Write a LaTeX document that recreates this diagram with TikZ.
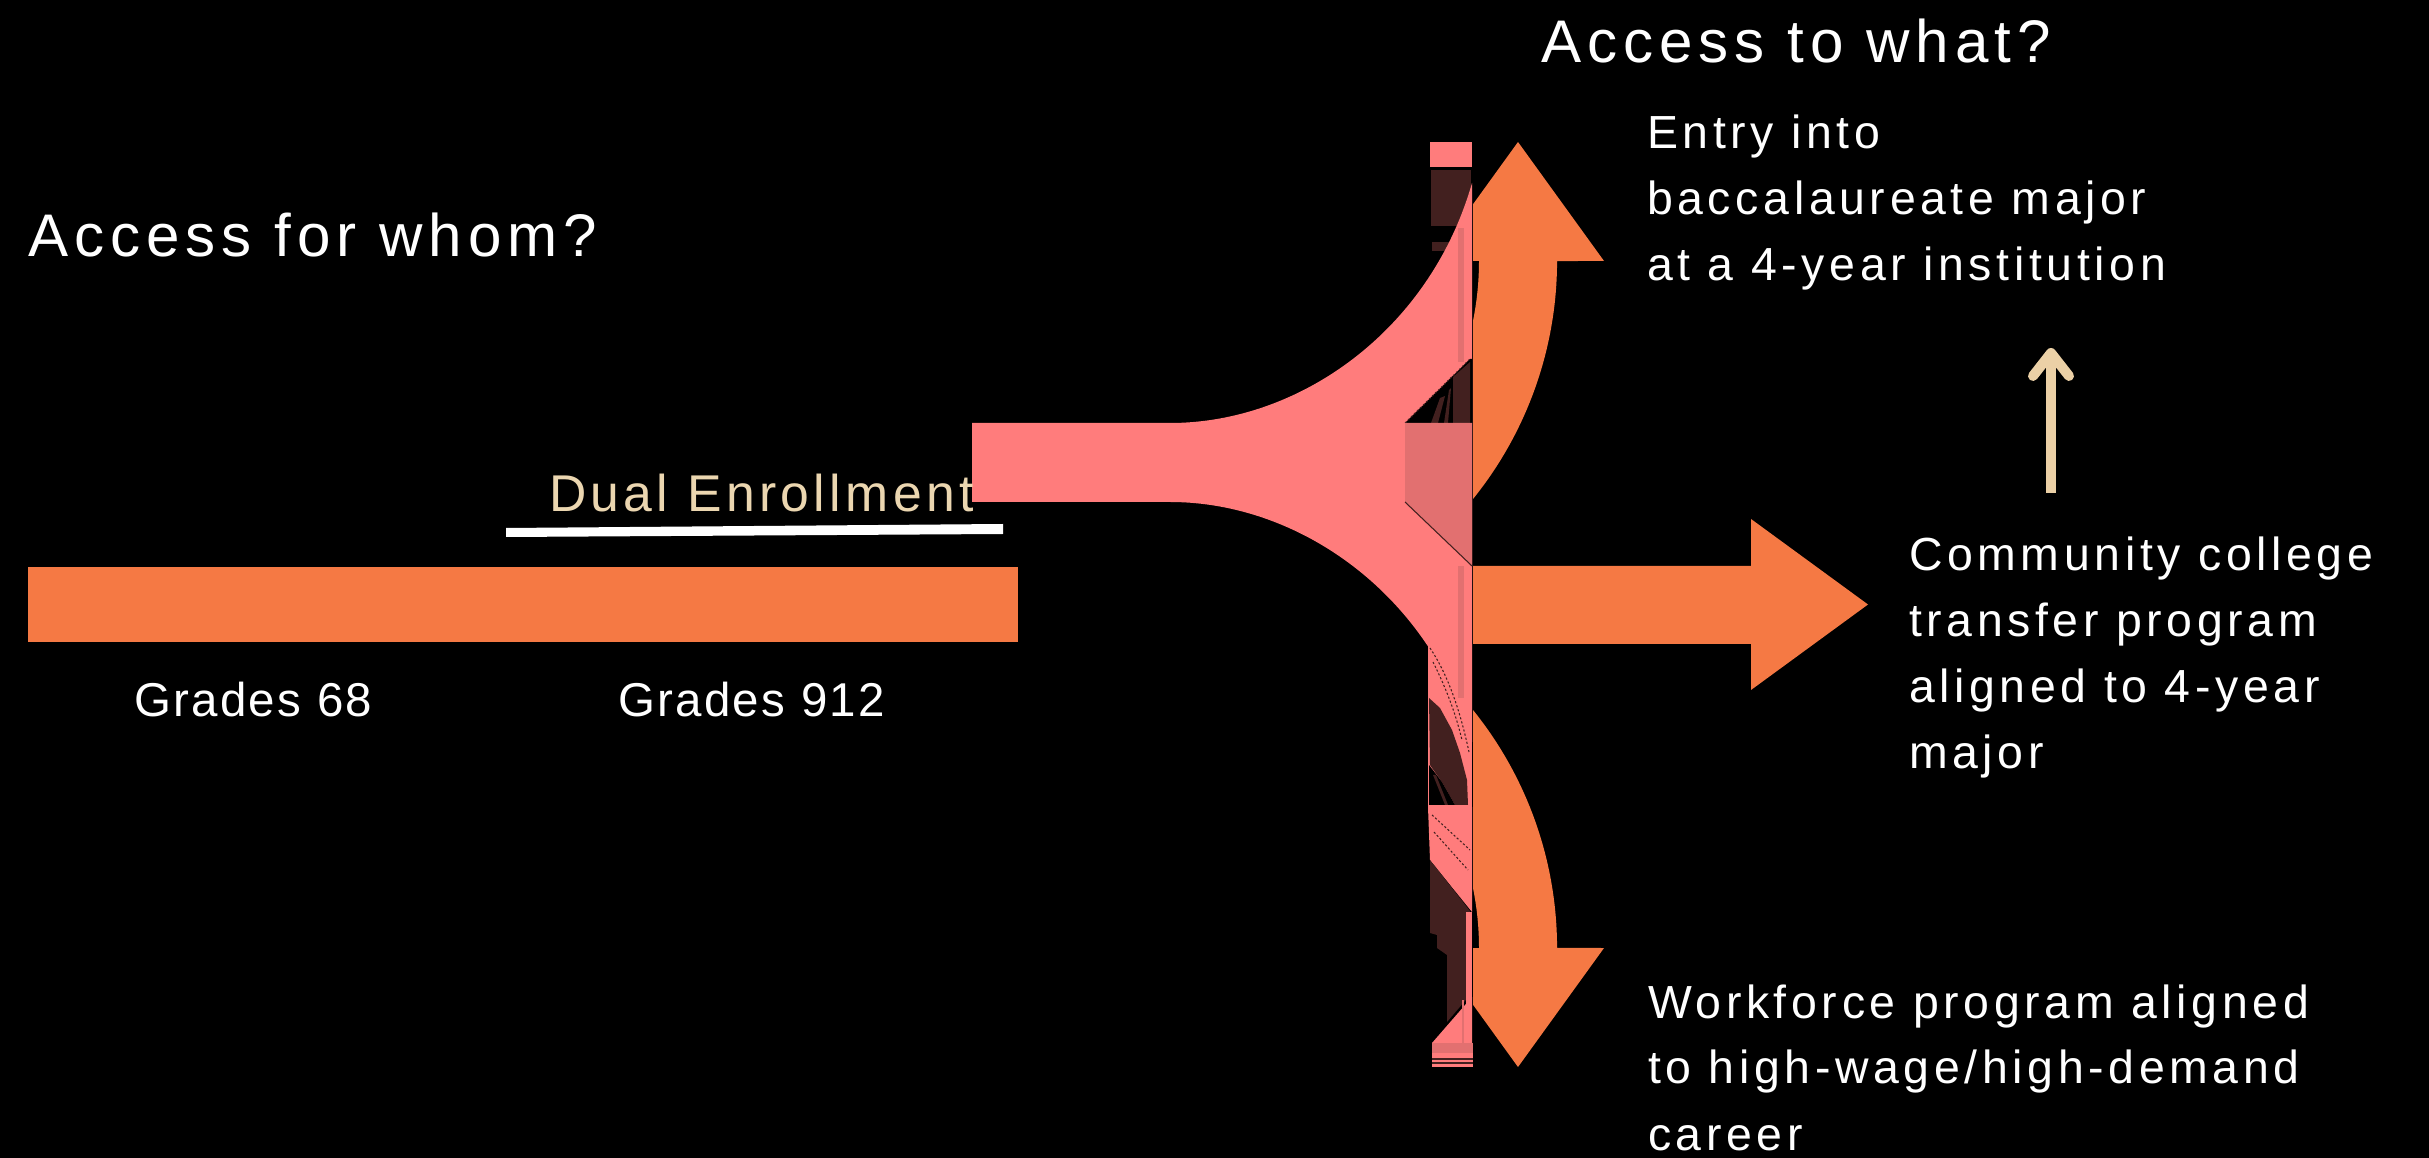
\documentclass[tikz,border=0pt]{standalone}
\usepackage{fontspec}
\setmainfont{Liberation Sans}
\newfontfamily\fontA[LetterSpace=10]{Liberation Sans}
\newfontfamily\fontB[LetterSpace=10]{Liberation Sans}
\newfontfamily\fontG[LetterSpace=5]{Liberation Sans}
\newfontfamily\fontD[LetterSpace=8.5]{Liberation Sans}
\definecolor{orangeA}{RGB}{245,121,68}
\definecolor{pinkA}{RGB}{255,124,124}
\definecolor{pinkB}{RGB}{226,112,112}
\definecolor{brownA}{RGB}{66,32,31}
\definecolor{creamA}{RGB}{235,208,166}
\definecolor{tanA}{RGB}{235,214,176}
\tikzset{
  lbl/.style={anchor=base west, inner sep=0pt, outer sep=0pt, text=white},
  bigtxt/.style={lbl, font=\fontA\fontsize{17.1}{20}\selectfont},
  midtxt/.style={lbl, font=\fontB\fontsize{13.2}{16}\selectfont},
  grdtxt/.style={lbl, font=\fontG\fontsize{13.5}{16}\selectfont},
  dualtxt/.style={lbl, text=tanA, font=\fontD\fontsize{14.7}{17}\selectfont},
  dots/.style={brownA, line width=0.3pt, dash pattern=on 0.6pt off 0.6pt},
}
\begin{document}
\begin{tikzpicture}[x=0.01cm,y=-0.01cm]
% background
\fill[black] (0,0) rectangle (2429,1158);
\useasboundingbox (0,0) rectangle (2429,1158);

% left orange bar
\fill[orangeA] (28,567) rectangle (1018,642);

% orange arrows on the right
\begin{scope}
  \clip (1473,0) rectangle (2429,1158);
  % upper curved arrow
  \fill[orangeA] (1473,499) arc[start angle=38.9,end angle=0,radius=379]
     -- (1604,261) -- (1518,142) -- (1432,261) -- (1479,261)
     arc[start angle=0,end angle=40,radius=301] -- cycle;
  % lower curved arrow (mirror)
  \begin{scope}[shift={(0,1209)},yscale=-1]
    \fill[orangeA] (1473,499) arc[start angle=38.9,end angle=0,radius=379]
       -- (1604,261) -- (1518,142) -- (1432,261) -- (1479,261)
       arc[start angle=0,end angle=40,radius=301] -- cycle;
  \end{scope}
  % middle straight arrow
  \fill[orangeA] (1473,566) -- (1751,566) -- (1751,519) -- (1868,604.5)
     -- (1751,690) -- (1751,644) -- (1473,644) -- cycle;
\end{scope}

% upper column parts
\fill[pinkA] (1430,142) rectangle (1472,167);
\fill[brownA] (1431,170) rectangle (1471,226);
\fill[brownA] (1432,242) rectangle (1450,251);

% main pink flared shape
\fill[pinkA] (972,423) -- (1170,423) .. controls (1300,423) and (1430,330) .. (1472,183)
   -- (1472,742) .. controls (1430,595) and (1300,502) .. (1170,502) -- (972,502) -- cycle;

% darker strip in column
\fill[pinkB] (1458,228) rectangle (1464,362);

% dark triangle with brown hatching
\fill[black] (1405,423) -- (1470,359) -- (1472,359) -- (1472,423) -- cycle;
\fill[brownA] (1453,377) -- (1470,362) -- (1470,423) -- (1453,423) -- cycle;
\fill[brownA] (1431,423) -- (1440,398) -- (1445,396) -- (1438,423) -- cycle;
\fill[brownA] (1444,423) -- (1449,390) -- (1451,388) -- (1448,423) -- cycle;
\draw[dots] (1405,423) -- (1470,359);

% darker pink quad
\fill[pinkB] (1405,423) -- (1472,423) -- (1472,566) -- (1405,502) -- cycle;
\draw[brownA, line width=0.3pt] (1405,502) -- (1472,566);

% lower column parts
\fill[pinkA] (1428,640) rectangle (1472,807);
\fill[pinkB] (1458,566) rectangle (1464,698);
\draw[dots] (1430,648) .. controls (1448,675) and (1460,710) .. (1469,752);
\draw[dots] (1433,662) .. controls (1447,690) and (1456,715) .. (1462,740);
\fill[brownA] (1429,698) -- (1440,708) -- (1452,730) -- (1460,753) -- (1467,780)
   -- (1468,805) -- (1455,805) -- (1442,782) -- (1430,765) -- cycle;
\fill[black] (1429,765) -- (1442,782) -- (1455,805) -- (1429,805) -- cycle;
\fill[brownA] (1433,775) -- (1436,775) -- (1448,805) -- (1445,805) -- cycle;

\fill[pinkA] (1428,807) -- (1472,807) -- (1472,912) -- (1430,860) -- cycle;
\draw[dots] (1432,815) -- (1470,850);
\draw[dots] (1434,832) -- (1468,870);
\fill[brownA] (1430,860) -- (1470,911) -- (1470,995) -- (1447,1022) -- (1447,955)
   -- (1437,948) -- (1437,935) -- (1430,933) -- cycle;
\fill[pinkA] (1466,912) rectangle (1472,1043);
\fill[pinkA] (1432,1043) -- (1472,997) -- (1472,1043) -- cycle;
\fill[pinkB] (1432,1043) rectangle (1473,1053);
\fill[pinkA] (1432,1053) rectangle (1473,1067);
\draw[brownA, line width=0.3pt] (1432,1059) -- (1473,1059);
\draw[brownA, line width=0.3pt] (1432,1063) -- (1473,1063);
\draw[pinkB, line width=0.5pt] (1463,1000) -- (1463,1043);

% white underline
\fill[white] (506,528) -- (1003,524) -- (1003,534) -- (506,537) -- cycle;

% cream arrow
\draw[creamA, line width=0.1cm] (2051,493) -- (2051,358);
\draw[creamA, line width=0.1cm, line cap=round, line join=round]
  (2033,376) -- (2051,353) -- (2069,376);

% texts
\node[bigtxt] (what) at (1541,63) {Access to what?};
\node[bigtxt] (whom) at (28,257) {Access for whom?};
\node[dualtxt] (dual) at (549,512) {Dual Enrollment};
\node[grdtxt] (g68) at (134,717) {Grades 68};
\node[grdtxt] (g912) at (618,717) {Grades 912};
\node[midtxt] (e1) at (1647,149) {Entry into};
\node[midtxt] (e2) at (1647,215) {baccalaureate major};
\node[midtxt] (e3) at (1647,281) {at a 4-year institution};
\node[midtxt] (c1) at (1909,571) {Community college};
\node[midtxt] (c2) at (1909,637) {transfer program};
\node[midtxt] (c3) at (1909,703) {aligned to 4-year};
\node[midtxt] (c4) at (1909,769) {major};
\node[midtxt] (w1) at (1648,1018) {Workforce program aligned};
\node[midtxt] (w2) at (1648,1083) {to high-wage/high-demand};
\node[midtxt] (w3) at (1648,1150) {career};
\end{tikzpicture}
\end{document}
